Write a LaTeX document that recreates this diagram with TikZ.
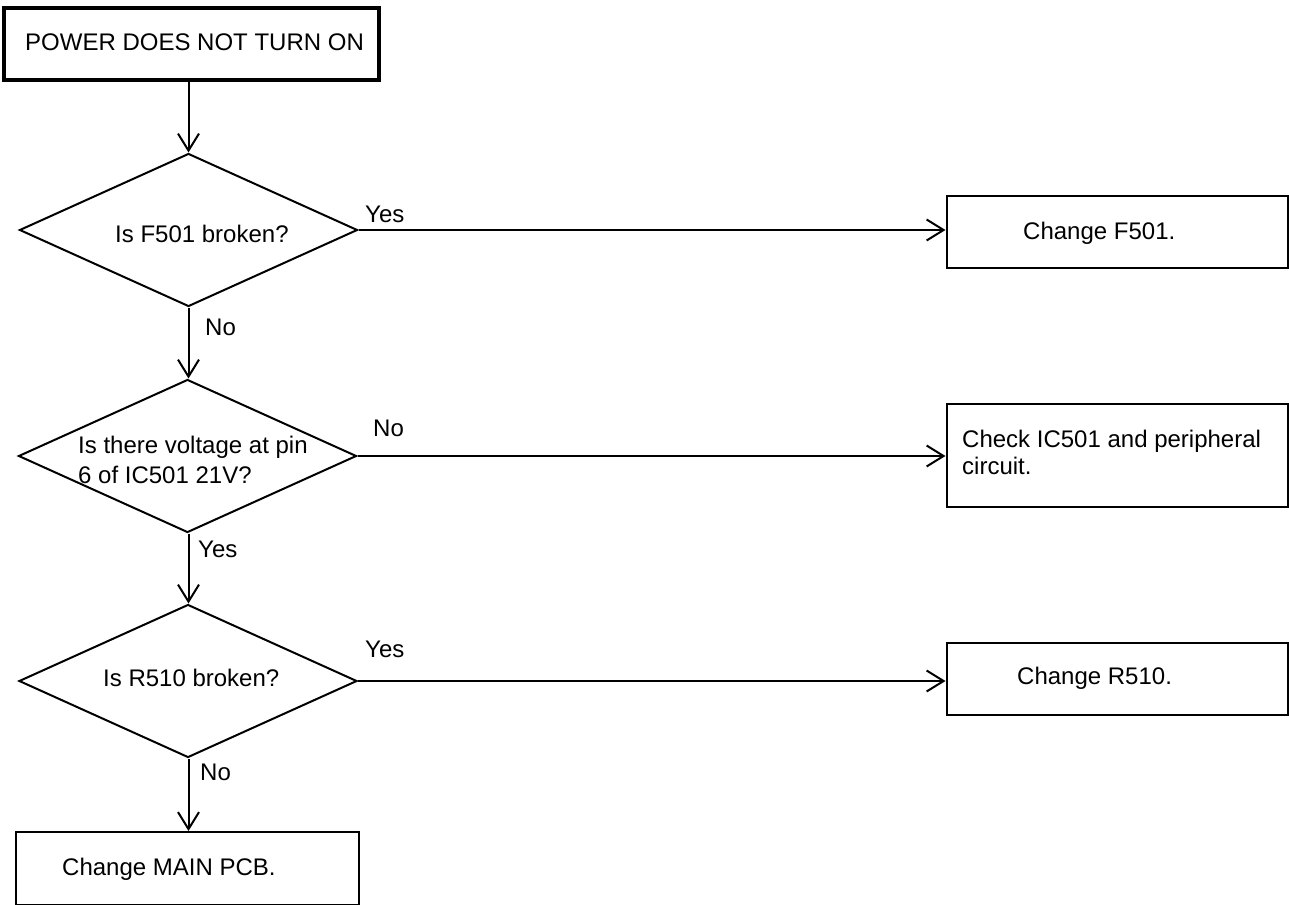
\documentclass[tikz,border=0pt]{standalone}
\usepackage{fontspec}
\setmainfont{Liberation Sans}
\usetikzlibrary{shapes.geometric,arrows.meta}
\begin{document}
\begin{tikzpicture}[x=1pt,y=-1pt,
  every node/.style={font=\fontsize{24}{29}\selectfont},
  txt/.style={anchor=base west,inner sep=0pt},
  dia/.style={draw,line width=2pt,diamond,inner sep=0pt,minimum width=338pt,minimum height=153pt},
  stepbox/.style={draw,line width=2pt,rectangle,inner sep=0pt},
  arr/.style={line width=2pt,-{Straight Barb[length=17pt,width=21pt,line width=2pt]}},
  ln/.style={line width=2pt}]
\useasboundingbox (0,0) rectangle (1289,904);
% start box
\node[draw,line width=4pt,rectangle,inner sep=0pt,minimum width=375pt,minimum height=72pt] (start) at (191.5,44) {};
\node[txt] (tstart) at (25,51) {POWER DOES NOT TURN ON};
% diamonds
\node[dia] (d1) at (188.5,230) {};
\node[dia] (d2) at (187.5,456) {};
\node[dia] (d3) at (188,681) {};
% boxes
\node[stepbox,minimum width=341pt,minimum height=72pt] (b1) at (1117,232) {};
\node[stepbox,minimum width=341pt,minimum height=103pt] (b2) at (1117,455.5) {};
\node[stepbox,minimum width=341pt,minimum height=72pt] (b3) at (1117,679) {};
\node[stepbox,minimum width=343pt,minimum height=73pt] (b4) at (187.5,868.5) {};
% texts
\node[txt] (t1) at (115,242) {Is F501 broken?};
\node[txt] (t2a) at (78,453) {Is there voltage at pin};
\node[txt] (t2b) at (78,483) {6 of IC501 21V?};
\node[txt] (t3) at (103,686) {Is R510 broken?};
\node[txt] (tb1) at (1023,239) {Change F501.};
\node[txt] (tb2a) at (962,447) {Check IC501 and peripheral};
\node[txt] (tb2b) at (962,474) {circuit.};
\node[txt] (tb3) at (1017,684) {Change R510.};
\node[txt] (tb4) at (62,875) {Change MAIN PCB.};
% labels
\node[txt] (l1) at (365,222) {Yes};
\node[txt] (l2) at (205,335) {No};
\node[txt] (l3) at (373,436) {No};
\node[txt] (l4) at (198,557) {Yes};
\node[txt] (l5) at (365,657) {Yes};
\node[txt] (l6) at (200,780) {No};
% connectors
\draw[arr] (start.south -| d1.north) -- (d1.north);
\draw[arr] (d1.south) -- (d2.north -| d1.south);
\draw[arr] (d2.south -| d1.south) -- (d3.north -| d1.south);
\draw[arr] (d3.south -| d1.south) -- (b4.north -| d1.south);
\draw[arr] (d1.east) -- (d1.east -| b1.west);
\draw[arr] (d2.east) -- (d2.east -| b2.west);
\draw[arr] (d3.east) -- (d3.east -| b3.west);
\end{tikzpicture}
\end{document}
